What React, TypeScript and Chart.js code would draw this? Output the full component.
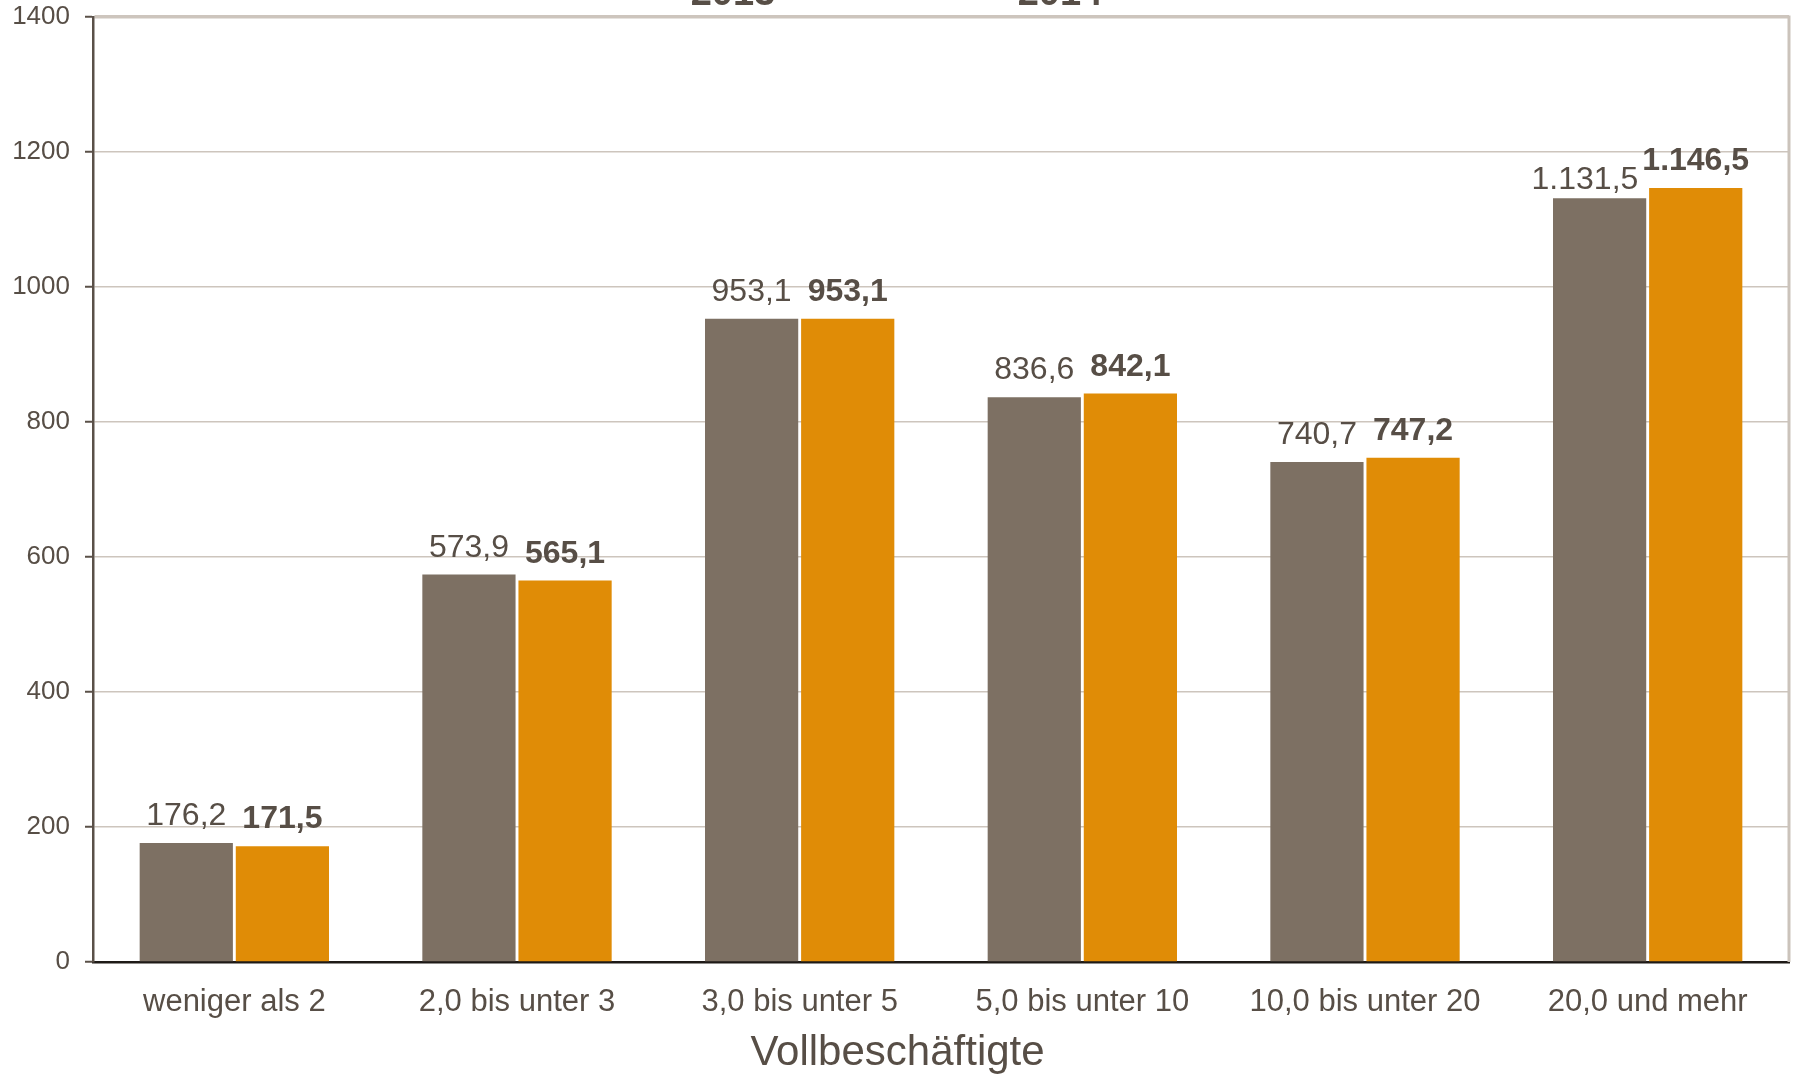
import React, { useEffect, useRef } from "react";
import { Chart, registerables } from "chart.js";

Chart.register(...registerables);

const categories = [
  "weniger als 2",
  "2,0 bis unter 3",
  "3,0 bis unter 5",
  "5,0 bis unter 10",
  "10,0 bis unter 20",
  "20,0 und mehr",
];
const seriesNames = ["2013", "2014"];
const values2013 = [176.2, 573.9, 953.1, 836.6, 740.7, 1131.5];
const values2014 = [171.5, 565.1, 953.1, 842.1, 747.2, 1146.5];
const axisTitle = "Vollbeschäftigte";

const FONT = "'Liberation Sans', Arial, sans-serif";
const TEXT = "#574e46";

function formatDe(v: number): string {
  const fixed = v.toFixed(1);
  const [intPart, dec] = fixed.split(".");
  const withSep = intPart.replace(/\B(?=(\d{3})+(?!\d))/g, ".");
  return withSep + "," + dec;
}

const valueLabels = {
  id: "valueLabels",
  afterDatasetsDraw(chart: any) {
    const ctx = chart.ctx;
    ctx.save();
    ctx.fillStyle = TEXT;
    ctx.textAlign = "center";
    ctx.textBaseline = "alphabetic";
    const m0 = chart.getDatasetMeta(0);
    const m1 = chart.getDatasetMeta(1);
    const d0 = chart.data.datasets[0].data;
    const d1 = chart.data.datasets[1].data;
    m0.data.forEach((bar0: any, j: number) => {
      const bar1 = m1.data[j];
      const t0 = formatDe(d0[j]);
      const t1 = formatDe(d1[j]);
      ctx.font = "bold 32px " + FONT;
      const w1 = ctx.measureText(t1).width;
      ctx.font = "32px " + FONT;
      const w0 = ctx.measureText(t0).width;
      let x0 = bar0.x;
      let y0 = bar0.y - 18;
      const y1 = bar1.y - 18;
      const overlap = x0 + w0 / 2 + 4 - (bar1.x - w1 / 2);
      if (overlap > 0 && Math.abs(y0 - y1) < 30) {
        x0 -= overlap;
        y0 = Math.max(y0, y1) + 9;
      }
      ctx.fillText(t0, x0, y0);
      ctx.font = "bold 32px " + FONT;
      ctx.fillText(t1, bar1.x, y1);
    });
    ctx.restore();
  },
};

const frame = {
  id: "frame",
  afterDraw(chart: any) {
    const ctx = chart.ctx;
    const a = chart.chartArea;
    ctx.save();
    ctx.strokeStyle = "#cbc3bb";
    ctx.lineWidth = 3;
    ctx.beginPath();
    ctx.moveTo(a.right, a.top - 1.5);
    ctx.lineTo(a.right, a.bottom);
    ctx.stroke();
    // clipped legend text at top
    ctx.font = "bold 38px " + FONT;
    ctx.fillStyle = TEXT;
    ctx.textAlign = "center";
    ctx.textBaseline = "alphabetic";
    const legendX = [733, 1060];
    seriesNames.forEach((n, i) => ctx.fillText(n, legendX[i], 5));
    // axis title centred on the canvas
    ctx.font = "42px " + FONT;
    ctx.textBaseline = "middle";
    ctx.fillText(axisTitle, chart.width / 2, 1053);
    ctx.restore();
  },
};

export default function App() {
  const ref = useRef<HTMLCanvasElement>(null);
  useEffect(() => {
    if (!ref.current) return;
    const chart = new Chart(ref.current, {
      type: "bar",
      data: {
        labels: categories,
        datasets: [
          {
            label: seriesNames[0],
            data: values2013,
            backgroundColor: "#7d7063",
            barPercentage: 0.97,
            categoryPercentage: 0.68,
          },
          {
            label: seriesNames[1],
            data: values2014,
            backgroundColor: "#e08c06",
            barPercentage: 0.97,
            categoryPercentage: 0.68,
          },
        ],
      },
      options: {
        responsive: false,
        animation: false,
        layout: { padding: { left: 0, right: 6, top: 17, bottom: 0 } },
        plugins: {
          legend: { display: false },
          tooltip: { enabled: false },
        },
        scales: {
          x: {
            grid: { display: false, drawTicks: false },
            border: { color: "#1e1a17", width: 2.5 },
            ticks: {
              color: TEXT,
              font: { family: FONT, size: 31 },
              padding: 22,
            },
            afterFit(scale: any) {
              scale.height = 115;
              scale.paddingLeft = 0;
              scale.paddingRight = 0;
            },
          },
          y: {
            min: 0,
            max: 1400,
            ticks: {
              stepSize: 200,
              color: TEXT,
              font: { family: FONT, size: 26 },
              padding: 15,
              callback: (v: any) => String(v),
            },
            grid: {
              color: "#cdc5bd",
              lineWidth: (c: any) => (c.tick && c.tick.value === 1400 ? 3.5 : 1.5),
              tickColor: "#5a5048",
              tickLength: 8,
              tickWidth: 2,
            },
            border: { color: "#5a5048", width: 2.5 },
            afterFit(scale: any) {
              scale.width = 93;
              scale.paddingTop = 0;
              scale.paddingBottom = 0;
            },
          },
        },
      },
      plugins: [valueLabels, frame],
    });
    return () => chart.destroy();
  }, []);
  return (
    <div style={{ position: "fixed", left: 0, top: 0, width: 1795, height: 1077, background: "#fff" }}>
      <canvas ref={ref} width={1795} height={1077} style={{ display: "block" }} />
    </div>
  );
}
